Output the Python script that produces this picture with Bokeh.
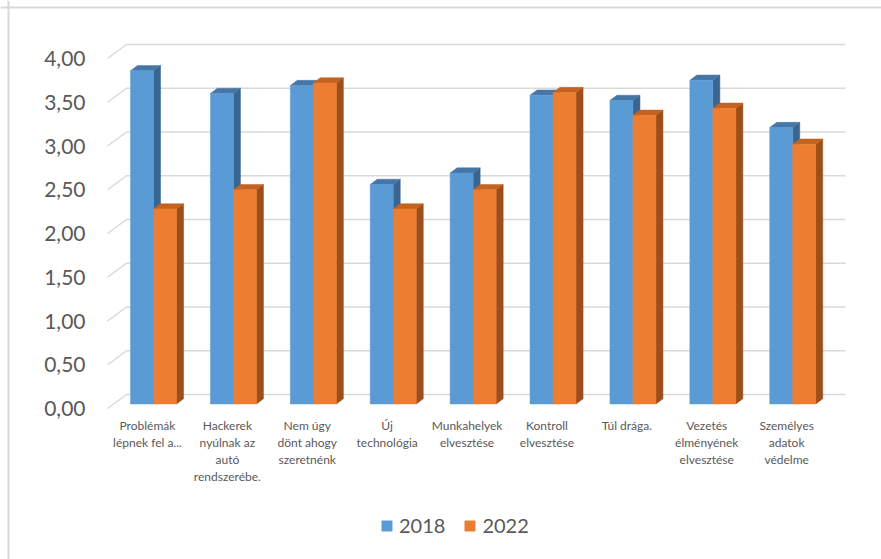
from bokeh.plotting import figure
from bokeh.models import (Range1d, LinearAxis, FixedTicker, CustomJSTickFormatter,
                          Legend, LegendItem, Span)
from bokeh.core.properties import value
from bokeh.embed import file_html
from bokeh.resources import INLINE

# ---------------- data ----------------
categories = [
    "Problémák\nlépnek fel a...",
    "Hackerek\nnyúlnak az\nautó\nrendszerébe.",
    "Nem úgy\ndönt ahogy\nszeretnénk",
    "Új\ntechnológia",
    "Munkahelyek\nelvesztése",
    "Kontroll\nelvesztése",
    "Túl drága.",
    "Vezetés\nélményének\nelvesztése",
    "Személyes\nadatok\nvédelme",
]
values_2018 = [3.81, 3.55, 3.64, 2.51, 2.64, 3.53, 3.47, 3.70, 3.16]
values_2022 = [2.23, 2.45, 3.67, 2.23, 2.45, 3.56, 3.30, 3.38, 2.97]
series_names = ["2018", "2022"]
y_ticks = [0.0, 0.5, 1.0, 1.5, 2.0, 2.5, 3.0, 3.5, 4.0]

# ---------------- geometry / style ----------------
W, H = 881, 559
PX_X = 79.9      # pixels per category on the front plane
PX_Y = 87.5      # pixels per value unit
X0 = 107         # canvas x of the front-plane origin
Y0 = 408         # canvas y (from top) of the front-plane zero
DX = 19 / PX_X   # full depth offset (x, data units)
DY = 14 / PX_Y   # full depth offset (y, data units)
D0, D1 = 0.32, 0.69
BW = 23 / PX_X   # bar width
LINE_H = 17      # category label line spacing (px)

front_colors = ["#5b9bd5", "#ed7d31"]
top_colors = ["#4676a6", "#c4631f"]
side_colors = ["#3a6590", "#9c4e1b"]
text_color = "#595959"
grid_color = "#d9d9d9"
FONT = "Lato"

x_range = Range1d(-X0 / PX_X, (W - X0) / PX_X)
y_range = Range1d(-(H - Y0) / PX_Y, Y0 / PX_Y)

p = figure(width=W, height=H, x_range=x_range, y_range=y_range,
           x_axis_type=None, y_axis_type=None,
           output_backend="svg", toolbar_location=None,
           min_border=0, min_border_left=0, min_border_right=0,
           min_border_top=0, min_border_bottom=0)
p.outline_line_color = None
p.background_fill_color = "white"
p.border_fill_color = "white"

# chart border (left and top edges)
p.add_layout(Span(location=x_range.start + 8 / PX_X, dimension="height",
                  line_color=grid_color, line_width=2))
p.add_layout(Span(location=y_range.end - 7 / PX_Y, dimension="width",
                  line_color=grid_color, line_width=2))

# back-wall gridlines with the side-wall diagonal
n = len(categories)
gx, gy = [], []
for t in y_ticks:
    gx.append([0, DX, n + DX])
    gy.append([t, t + DY, t + DY])
p.multi_line(gx, gy, line_color=grid_color, line_width=1.5)

# 3D bars
legend_items = []
dd_x = (D1 - D0) * DX
dd_y = (D1 - D0) * DY
for s, vals in enumerate([values_2018, values_2022]):
    left, right, bottom, top = [], [], [], []
    side_x, side_y, top_x, top_y = [], [], [], []
    for i, v in enumerate(vals):
        xl = i + 0.5 - BW + s * BW + D0 * DX
        xr = xl + BW
        yb = D0 * DY
        yt = v + D0 * DY
        left.append(xl); right.append(xr); bottom.append(yb); top.append(yt)
        side_x.append([xr, xr + dd_x, xr + dd_x, xr])
        side_y.append([yb, yb + dd_y, yt + dd_y, yt])
        top_x.append([xl, xr, xr + dd_x, xl + dd_x])
        top_y.append([yt, yt, yt + dd_y, yt + dd_y])
    p.patches(side_x, side_y, fill_color=side_colors[s], line_color=side_colors[s], line_width=0.5)
    p.patches(top_x, top_y, fill_color=top_colors[s], line_color=top_colors[s], line_width=0.5)
    r = p.quad(left=left, right=right, bottom=bottom, top=top,
               fill_color=front_colors[s], line_color=front_colors[s], line_width=0.5)
    legend_items.append(LegendItem(label=series_names[s], renderers=[r]))

# y axis
yaxis = LinearAxis(fixed_location=0,
                   ticker=FixedTicker(ticks=y_ticks),
                   formatter=CustomJSTickFormatter(code="return tick.toFixed(2).replace('.', ',')"))
yaxis.axis_line_color = None
yaxis.major_tick_line_color = None
yaxis.minor_tick_line_color = None
yaxis.major_label_standoff = 16
yaxis.major_label_text_font = FONT
yaxis.major_label_text_font_size = "21px"
yaxis.major_label_text_color = text_color
p.add_layout(yaxis, "left")

# category labels (one text item per line, centred under each category)
lx, ly, lt, loff = [], [], [], []
for i, cat in enumerate(categories):
    for k, line in enumerate(cat.split("\n")):
        lx.append(i + 0.5)
        ly.append(-2 / PX_Y)
        lt.append(line)
        loff.append(15 + k * LINE_H)
p.text(x=lx, y=ly, text=lt, y_offset=loff, text_align="center",
       text_baseline="middle", text_font=value(FONT), text_font_size="12px",
       text_color=text_color)

legend = Legend(items=legend_items, orientation="horizontal",
                location=(380, 22), glyph_width=13, glyph_height=13,
                label_text_font=FONT, label_text_font_size="20px",
                label_text_color=text_color, label_standoff=6, spacing=18,
                padding=0, margin=0, border_line_color=None,
                background_fill_alpha=0)
p.add_layout(legend)

open("out.html", "w").write(file_html(p, INLINE))
